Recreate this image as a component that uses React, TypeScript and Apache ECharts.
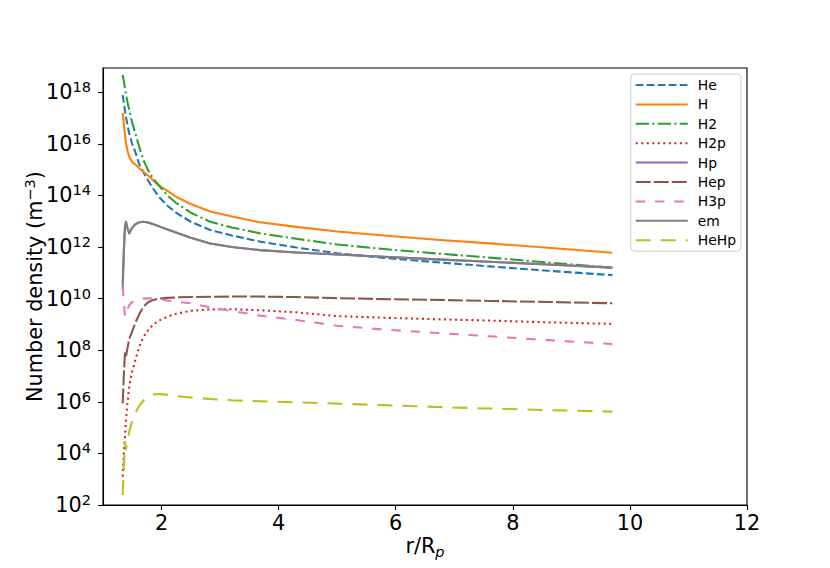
import React, { useEffect, useRef } from "react";
import * as echarts from "echarts";

// r / R_p sample positions shared by all species
const radius = [1.336, 1.355, 1.375, 1.392, 1.42, 1.449, 1.49, 1.55, 1.62, 1.69, 1.77, 1.86, 1.96, 2.1, 2.26, 2.5, 2.83, 3.2, 3.68, 4.3, 5.0, 5.8, 6.7, 7.6, 8.6, 9.7];

// log10 of number density (m^-3)
const logHe = [17.89, 17.6, 17.3, 17.05, 16.7, 16.4, 16.05, 15.7, 15.2, 14.9, 14.58, 14.25, 13.93, 13.6, 13.31, 12.98, 12.66, 12.45, 12.21, 11.98, 11.76, 11.58, 11.41, 11.25, 11.08, 10.91];
const logH = [17.2, 16.8, 16.35, 16.02, 15.72, 15.5, 15.32, 15.2, 15.05, 14.92, 14.77, 14.58, 14.38, 14.18, 13.93, 13.67, 13.38, 13.18, 12.96, 12.78, 12.6, 12.45, 12.28, 12.14, 11.97, 11.78];
const logH2 = [18.67, 18.42, 18.15, 17.93, 17.6, 17.3, 16.9, 16.42, 15.88, 15.37, 14.98, 14.64, 14.37, 14.0, 13.69, 13.33, 12.98, 12.76, 12.53, 12.32, 12.1, 11.92, 11.75, 11.59, 11.4, 11.2];
const logH2p = [3.1, 4.0, 4.65, 5.3, 6.0, 6.6, 7.1, 7.6, 8.15, 8.5, 8.78, 9.0, 9.15, 9.3, 9.42, 9.53, 9.58, 9.59, 9.55, 9.47, 9.32, 9.26, 9.2, 9.15, 9.08, 9.02];
const logHp = [10.35, 11.8, 12.79, 12.98, 12.7, 12.53, 12.72, 12.88, 12.96, 12.98, 12.95, 12.88, 12.8, 12.68, 12.55, 12.36, 12.14, 12.0, 11.88, 11.79, 11.71, 11.62, 11.52, 11.43, 11.32, 11.2];
const logHep = [5.94, 7.0, 7.88, 7.75, 8.1, 8.45, 8.68, 9.05, 9.4, 9.68, 9.86, 9.95, 10.0, 10.03, 10.05, 10.06, 10.07, 10.08, 10.08, 10.06, 10.02, 9.98, 9.95, 9.91, 9.87, 9.82];
const logH3p = [10.46, 9.95, 9.3, 9.35, 9.6, 9.75, 9.85, 9.93, 9.98, 10.0, 10.01, 10.01, 9.98, 9.93, 9.88, 9.82, 9.66, 9.52, 9.34, 9.17, 8.95, 8.8, 8.67, 8.54, 8.39, 8.24];
const logEm = [10.6, 11.8, 12.79, 12.98, 12.7, 12.53, 12.72, 12.88, 12.96, 12.98, 12.95, 12.88, 12.8, 12.68, 12.55, 12.36, 12.14, 12.0, 11.88, 11.79, 11.71, 11.62, 11.52, 11.43, 11.32, 11.2];
const logHeHp = [2.39, 3.4, 4.45, 4.15, 4.5, 4.85, 5.2, 5.55, 5.85, 6.05, 6.2, 6.28, 6.3, 6.27, 6.22, 6.17, 6.11, 6.06, 6.02, 5.98, 5.93, 5.87, 5.8, 5.74, 5.68, 5.62];

const seriesNames = ["He", "H", "H2", "H2p", "Hp", "Hep", "H3p", "em", "HeHp"];
const seriesValues = [logHe, logH, logH2, logH2p, logHp, logHep, logH3p, logEm, logHeHp];
const seriesColors = ["#1f77b4", "#ff7f0e", "#2ca02c", "#d62728", "#9467bd", "#8c564b", "#e377c2", "#7f7f7f", "#bcbd22"];
const seriesDashes: (number[] | "solid")[] = [
  [7.7, 3.3],
  "solid",
  [13.3, 3.3, 2.1, 3.3],
  [2.08, 3.43],
  "solid",
  [15, 3],
  [9.5, 9.8],
  "solid",
  [15, 10],
];

const xTicks = [2, 4, 6, 8, 10, 12];
const yTickExponents = [2, 4, 6, 8, 10, 12, 14, 16, 18];

const FONT = "DejaVu Sans";

export default function App() {
  const ref = useRef<HTMLDivElement>(null);

  useEffect(() => {
    const chart = echarts.init(ref.current!, null, { renderer: "svg" });
    const yTicks = yTickExponents.map((e) => Math.pow(10, e));

    const series = seriesNames.map((name, k) => ({
      name,
      type: "line",
      data: radius.map((r, i) => [r, Math.pow(10, seriesValues[k][i])]),
      symbol: "none",
      showSymbol: false,
      clip: true,
      itemStyle: { color: seriesColors[k] },
      lineStyle: { color: seriesColors[k], width: 2.08, type: seriesDashes[k], cap: "butt", join: "round" },
      emphasis: { disabled: true },
    }));

    chart.setOption({
      animation: false,
      backgroundColor: "#ffffff",
      textStyle: { fontFamily: FONT },
      grid: {
        left: 103,
        top: 68,
        right: 83,
        bottom: 63,
        show: true,
        borderColor: "#000",
        borderWidth: 1.1,
        backgroundColor: "transparent",
      },
      legend: {
        orient: "vertical",
        right: 89,
        top: 74,
        itemWidth: 52,
        itemHeight: 14,
        itemGap: 5.4,
        padding: [4, 5, 4, 4],
        backgroundColor: "rgba(255,255,255,0.8)",
        borderColor: "#cccccc",
        borderWidth: 1,
        borderRadius: 4,
        itemStyle: { opacity: 0 },
        textStyle: { fontFamily: FONT, fontSize: 13.9, color: "#000", padding: [0, 0, 0, 5] },
        data: seriesNames,
      },
      xAxis: {
        type: "value",
        min: 1,
        max: 12,
        name: "r/R{p|p}",
        nameLocation: "middle",
        nameGap: 28,
        nameMoveOverlap: false,
        nameTextStyle: {
          fontFamily: FONT,
          fontSize: 20.8,
          color: "#000",
          lineHeight: 26,
          rich: {
            p: { fontFamily: FONT, fontSize: 14.6, fontStyle: "italic", color: "#000", lineHeight: 16, verticalAlign: "bottom" },
          },
        },
        axisLine: { show: true, onZero: false, lineStyle: { color: "#000", width: 1.1 } },
        axisTick: { show: true, length: 4.9, customValues: xTicks, lineStyle: { color: "#000", width: 1.1 } },
        axisLabel: {
          customValues: xTicks,
          margin: 7,
          fontFamily: FONT,
          fontSize: 20.8,
          color: "#000",
        },
        splitLine: { show: false },
      },
      yAxis: {
        type: "log",
        logBase: 10,
        min: 100,
        max: 8.7e18,
        name: "Number density (m{s|−3})",
        nameLocation: "middle",
        nameRotate: 90,
        nameGap: 55,
        nameMoveOverlap: false,
        nameTextStyle: {
          fontFamily: FONT,
          fontSize: 20.8,
          color: "#000",
          lineHeight: 26,
          rich: {
            s: { fontFamily: FONT, fontSize: 14.6, color: "#000", lineHeight: 9, verticalAlign: "top" },
          },
        },
        axisLine: { show: true, onZero: false, lineStyle: { color: "#000", width: 1.1 } },
        axisTick: { show: true, length: 4.9, customValues: yTicks, lineStyle: { color: "#000", width: 1.1 } },
        axisLabel: {
          customValues: yTicks,
          margin: 12,
          formatter: (v: number) => `{b|10}{s|${Math.round(Math.log10(v))}}`,
          rich: {
            b: { fontFamily: FONT, fontSize: 20.8, color: "#000", lineHeight: 26 },
            s: { fontFamily: FONT, fontSize: 14.6, color: "#000", lineHeight: 9, verticalAlign: "top" },
          },
        },
        splitLine: { show: false },
        minorTick: { show: false },
      },
      series,
    });

    return () => chart.dispose();
  }, []);

  return (
    <div
      ref={ref}
      style={{ position: "fixed", left: 0, top: 0, width: 830, height: 568, background: "#fff" }}
    />
  );
}
